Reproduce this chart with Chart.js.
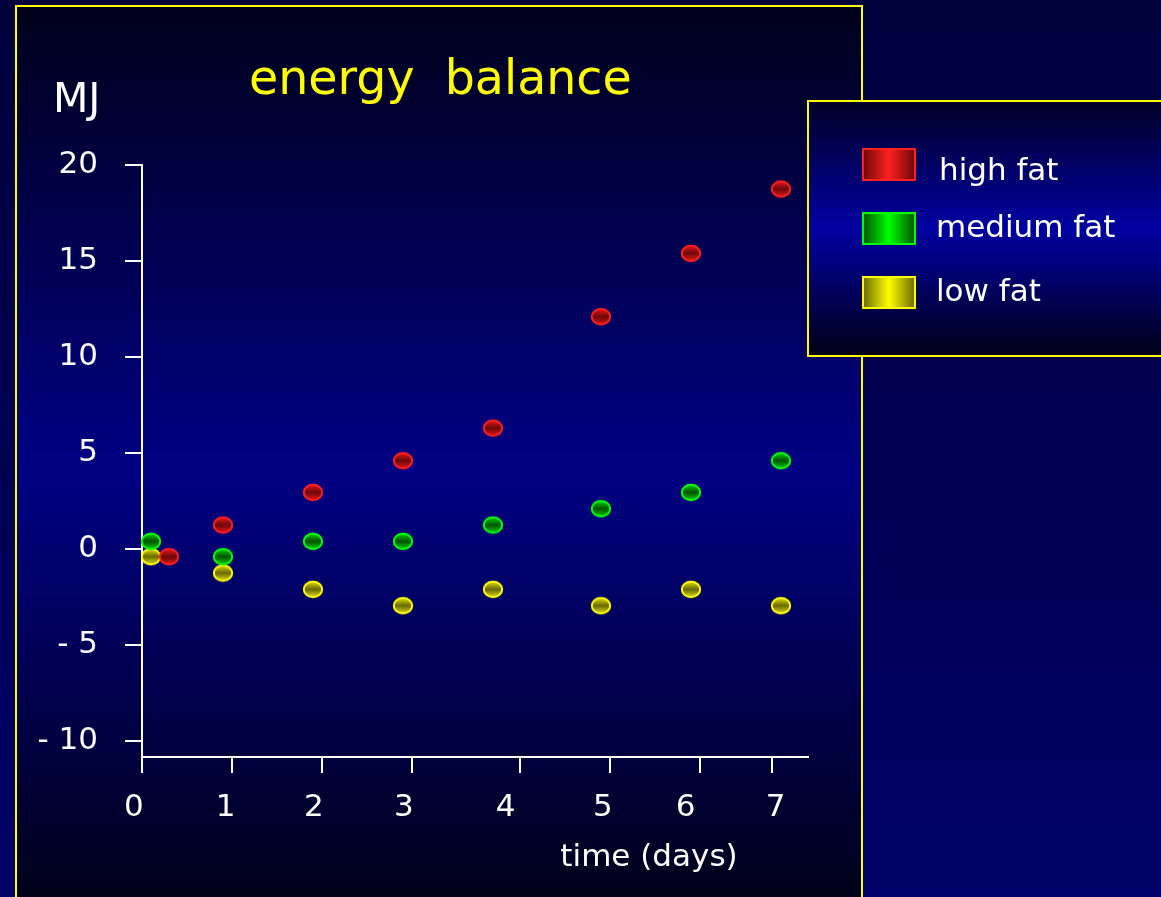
<!DOCTYPE html>
<html>
<head>
<meta charset="utf-8">
<title>energy balance</title>
<script src="https://cdn.jsdelivr.net/npm/chart.js@4/dist/chart.umd.min.js"></script>
<style>
  html, body { margin: 0; padding: 0; background: #000050; overflow: hidden; }
  #wrap { position: relative; width: 1161px; height: 897px; }
</style>
</head>
<body>
<div id="wrap"><canvas id="c" width="1161" height="897"></canvas></div>
<script>
// ---- data ----
const seriesNames = ['high fat', 'medium fat', 'low fat'];

const highFatDays = [0.3, 0.9, 1.9, 2.9, 3.9, 5.1, 6.1, 7.1];
const highFatMJ   = [-0.4, 1.25, 2.95, 4.6, 6.3, 12.1, 15.4, 18.75];

const mediumFatDays = [0.1, 0.9, 1.9, 2.9, 3.9, 5.1, 6.1, 7.1];
const mediumFatMJ   = [0.4, -0.4, 0.4, 0.4, 1.25, 2.1, 2.95, 4.6];

const lowFatDays = [0.1, 0.9, 1.9, 2.9, 3.9, 5.1, 6.1, 7.1];
const lowFatMJ   = [-0.4, -1.25, -2.1, -2.95, -2.1, -2.95, -2.1, -2.95];

// tick marks along the time axis, and where each day number sits
const xTickValues = [0, 1, 2, 3, 4.2, 5.2, 6.2, 7];
const xLabelDays  = [-0.09, 0.93, 1.91, 2.91, 4.04, 5.12, 6.04, 7.04];
const xTickLabels = ['0', '1', '2', '3', '4', '5', '6', '7'];
const yTickValues = [20, 15, 10, 5, 0, -5, -10];
const yTickLabels = ['20', '15', '10', '5', '0', '- 5', '- 10'];

// ---- styles ----
const FONT = "'DejaVu Sans', Verdana, sans-serif";
const rimColors   = ['#ff2020', '#00ff00', '#ffff00'];
const lightColors = ['#e01818', '#00c800', '#d8d800'];
const darkColors  = ['#6e0808', '#005400', '#6a6a00'];

function makeMarker(rim, light, dark) {
  const c = document.createElement('canvas');
  c.width = 22; c.height = 19;
  const g = c.getContext('2d');
  const grad = g.createLinearGradient(0, 2, 0, 17);
  grad.addColorStop(0, light);
  grad.addColorStop(0.5, dark);
  grad.addColorStop(1, light);
  g.beginPath();
  g.ellipse(11, 9.5, 9.2, 7.7, 0, 0, Math.PI * 2);
  g.fillStyle = grad;
  g.fill();
  g.lineWidth = 2;
  g.strokeStyle = rim;
  g.stroke();
  return c;
}

function pairs(xs, ys) { return xs.map((x, i) => ({ x: x, y: ys[i] })); }

const seriesData = [
  pairs(highFatDays, highFatMJ),
  pairs(mediumFatDays, mediumFatMJ),
  pairs(lowFatDays, lowFatMJ)
];

const datasets = seriesNames.map((name, i) => ({
  label: name,
  data: seriesData[i],
  pointStyle: makeMarker(rimColors[i], lightColors[i], darkColors[i]),
  borderColor: rimColors[i],
  backgroundColor: darkColors[i],
  pointRadius: 10,
  clip: false
}));

// slide background: outer field, framed gradient panel
const backdrop = {
  id: 'backdrop',
  beforeDraw(chart) {
    const ctx = chart.ctx;
    const W = chart.width, H = chart.height;
    ctx.save();
    const outer = ctx.createLinearGradient(0, 0, 0, H);
    outer.addColorStop(0, '#00003c');
    outer.addColorStop(1, '#000068');
    ctx.fillStyle = outer;
    ctx.fillRect(0, 0, W, H);

    const panel = ctx.createLinearGradient(0, 6, 0, 900);
    panel.addColorStop(0, '#00001a');
    panel.addColorStop(0.52, '#000084');
    panel.addColorStop(1, '#000018');
    ctx.fillStyle = panel;
    ctx.fillRect(16, 6, 846, 1000);
    ctx.strokeStyle = '#ffff00';
    ctx.lineWidth = 2;
    ctx.strokeRect(16, 6, 846, 1000);
    ctx.restore();
  }
};

// title, axis captions, day numbers and the legend box
const overlays = {
  id: 'overlays',
  afterDraw(chart) {
    const ctx = chart.ctx;
    ctx.save();
    ctx.textAlign = 'left';
    ctx.textBaseline = 'alphabetic';

    ctx.fillStyle = '#ffff00';
    ctx.font = '47.5px ' + FONT;
    ctx.fillText('energy  balance', 249, 94);

    ctx.fillStyle = '#ffffff';
    ctx.font = '41px ' + FONT;
    ctx.fillText('MJ', 53, 112);

    ctx.font = '31px ' + FONT;
    ctx.textAlign = 'center';
    ctx.fillText('time (days)', 649, 866);

    // day numbers under the time axis
    const xs = chart.scales.x;
    ctx.font = '31px ' + FONT;
    ctx.textBaseline = 'middle';
    xTickLabels.forEach((t, i) => {
      ctx.fillText(t, xs.getPixelForValue(xLabelDays[i]), 808);
    });
    ctx.textBaseline = 'alphabetic';

    // legend
    const lg = ctx.createLinearGradient(0, 101, 0, 356);
    lg.addColorStop(0, '#000026');
    lg.addColorStop(0.5, '#0000a2');
    lg.addColorStop(1, '#000016');
    ctx.fillStyle = lg;
    ctx.fillRect(808, 101, 400, 255);
    ctx.strokeStyle = '#ffff00';
    ctx.lineWidth = 2;
    ctx.strokeRect(808, 101, 400, 255);

    const swatchTop = [149, 213, 277];
    const textBase = [180, 237, 301];
    const textLeft = [939, 936, 936];
    chart.data.datasets.forEach((ds, i) => {
      const sg = ctx.createLinearGradient(863, 0, 915, 0);
      sg.addColorStop(0, darkColors[i]);
      sg.addColorStop(0.5, rimColors[i]);
      sg.addColorStop(1, darkColors[i]);
      ctx.fillStyle = sg;
      ctx.fillRect(863, swatchTop[i], 52, 31);
      ctx.strokeStyle = rimColors[i];
      ctx.lineWidth = 2;
      ctx.strokeRect(863, swatchTop[i], 52, 31);

      ctx.fillStyle = '#ffffff';
      ctx.font = '31px ' + FONT;
      ctx.textAlign = 'left';
      ctx.fillText(ds.label, textLeft[i], textBase[i]);
    });
    ctx.restore();
  }
};

new Chart(document.getElementById('c'), {
  type: 'scatter',
  data: { datasets: datasets },
  options: {
    responsive: false,
    animation: false,
    devicePixelRatio: 1,
    layout: { padding: { top: 165, right: 353, bottom: 0, left: 0 } },
    plugins: {
      legend: { display: false },
      tooltip: { enabled: false },
      title: { display: false }
    },
    scales: {
      x: {
        type: 'linear',
        min: 0,
        max: 7.4,
        afterBuildTicks(s) { s.ticks = xTickValues.map(v => ({ value: v })); },
        afterFit(s) { s.height = 140; },
        border: { display: true, color: '#ffffff', width: 2 },
        grid: { drawOnChartArea: false, drawTicks: true, tickLength: 16, color: '#ffffff', lineWidth: 2 },
        ticks: { display: false }
      },
      y: {
        type: 'linear',
        min: -10.83,
        max: 20,
        afterBuildTicks(s) { s.ticks = yTickValues.map(v => ({ value: v })); },
        afterFit(s) { s.width = 142; },
        border: { display: true, color: '#ffffff', width: 2 },
        grid: { drawOnChartArea: false, drawTicks: true, tickLength: 17, color: '#ffffff', lineWidth: 2 },
        ticks: {
          color: '#ffffff',
          font: { family: FONT, size: 31 },
          padding: 27,
          autoSkip: false,
          callback: (v, i) => yTickLabels[i]
        }
      }
    }
  },
  plugins: [backdrop, overlays]
});
</script>
</body>
</html>
